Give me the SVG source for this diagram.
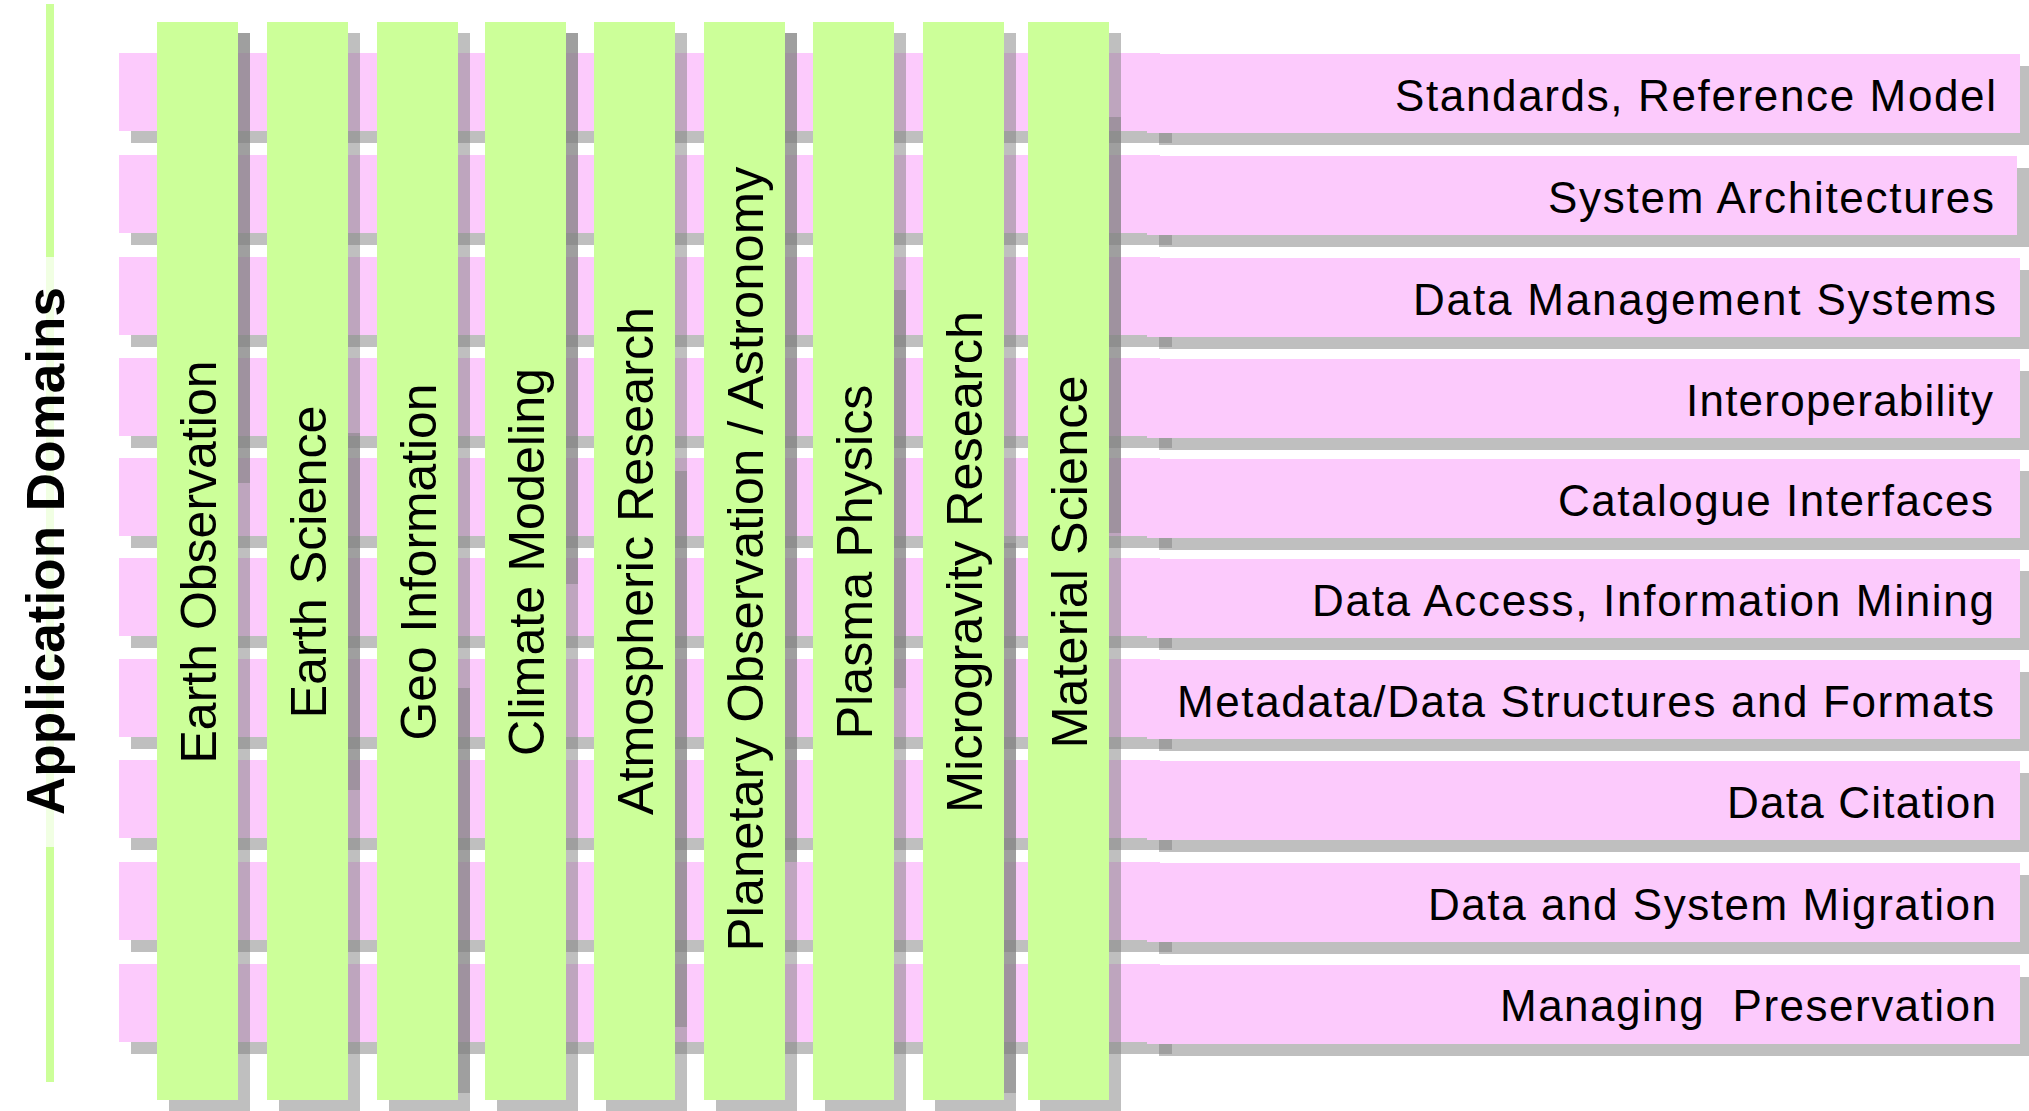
<svg xmlns="http://www.w3.org/2000/svg" width="2029" height="1111" viewBox="0 0 2029 1111">
<style>
.bar{fill:#fccafc}
.col{fill:#ccff99}
.sh{fill:#808080;fill-opacity:.5}
.bl{font-family:"Liberation Sans",Arial,sans-serif;font-size:44px;fill:#000;text-anchor:end}
.cl{font-family:"Liberation Sans",Arial,sans-serif;font-size:50px;fill:#000;text-anchor:middle}
.ax{font-family:"Liberation Sans",Arial,sans-serif;font-size:53px;font-weight:bold;fill:#000;text-anchor:middle}
</style>
<rect width="2029" height="1111" fill="#fff"/>
<g id="axis">
<rect x="46" y="4" width="8" height="1078" class="col"/>
<rect x="40" y="257" width="20" height="590" fill="#fff" fill-opacity=".72"/>
<text class="ax" transform="translate(64,551) rotate(-90)" textLength="528" lengthAdjust="spacing">Application Domains</text>
</g>
<g id="bar1"><rect class="sh" x="131" y="65" width="1041" height="78"/><rect class="sh" x="1159" y="66" width="873" height="79"/><rect class="bar" x="119" y="53" width="1041" height="78"/><rect class="bar" x="1147" y="54" width="873" height="79"/><text class="bl" x="1996" y="111" textLength="601" lengthAdjust="spacing">Standards, Reference Model</text></g>
<g id="bar2"><rect class="sh" x="131" y="167" width="1041" height="78"/><rect class="sh" x="1159" y="168" width="870" height="79"/><rect class="bar" x="119" y="155" width="1041" height="78"/><rect class="bar" x="1147" y="156" width="870" height="79"/><text class="bl" x="1994" y="213" textLength="446" lengthAdjust="spacing">System Architectures</text></g>
<g id="bar3"><rect class="sh" x="131" y="269" width="1041" height="78"/><rect class="sh" x="1159" y="270" width="873" height="79"/><rect class="bar" x="119" y="257" width="1041" height="78"/><rect class="bar" x="1147" y="258" width="873" height="79"/><text class="bl" x="1996" y="315" textLength="583" lengthAdjust="spacing">Data Management Systems</text></g>
<g id="bar4"><rect class="sh" x="131" y="370" width="1041" height="78"/><rect class="sh" x="1159" y="371" width="873" height="79"/><rect class="bar" x="119" y="358" width="1041" height="78"/><rect class="bar" x="1147" y="359" width="873" height="79"/><text class="bl" x="1993" y="416" textLength="307" lengthAdjust="spacing">Interoperability</text></g>
<g id="bar5"><rect class="sh" x="131" y="470" width="1041" height="78"/><rect class="sh" x="1159" y="471" width="873" height="79"/><rect class="bar" x="119" y="458" width="1041" height="78"/><rect class="bar" x="1147" y="459" width="873" height="79"/><text class="bl" x="1993" y="516" textLength="435" lengthAdjust="spacing">Catalogue Interfaces</text></g>
<g id="bar6"><rect class="sh" x="131" y="570" width="1041" height="78"/><rect class="sh" x="1159" y="571" width="873" height="79"/><rect class="bar" x="119" y="558" width="1041" height="78"/><rect class="bar" x="1147" y="559" width="873" height="79"/><text class="bl" x="1994" y="616" textLength="682" lengthAdjust="spacing">Data Access, Information Mining</text></g>
<g id="bar7"><rect class="sh" x="131" y="671" width="1041" height="78"/><rect class="sh" x="1159" y="672" width="873" height="79"/><rect class="bar" x="119" y="659" width="1041" height="78"/><rect class="bar" x="1147" y="660" width="873" height="79"/><text class="bl" x="1994" y="717" textLength="817" lengthAdjust="spacing">Metadata/Data Structures and Formats</text></g>
<g id="bar8"><rect class="sh" x="131" y="772" width="1041" height="78"/><rect class="sh" x="1159" y="773" width="873" height="79"/><rect class="bar" x="119" y="760" width="1041" height="78"/><rect class="bar" x="1147" y="761" width="873" height="79"/><text class="bl" x="1996" y="818" textLength="269" lengthAdjust="spacing">Data Citation</text></g>
<g id="bar9"><rect class="sh" x="131" y="874" width="1041" height="78"/><rect class="sh" x="1159" y="875" width="873" height="79"/><rect class="bar" x="119" y="862" width="1041" height="78"/><rect class="bar" x="1147" y="863" width="873" height="79"/><text class="bl" x="1996" y="920" textLength="568" lengthAdjust="spacing">Data and System Migration</text></g>
<g id="bar10"><rect class="sh" x="131" y="976" width="1041" height="78"/><rect class="sh" x="1159" y="977" width="873" height="79"/><rect class="bar" x="119" y="964" width="1041" height="78"/><rect class="bar" x="1147" y="965" width="873" height="79"/><text class="bl" x="1996" y="1021" textLength="496" lengthAdjust="spacing" xml:space="preserve">Managing  Preservation</text></g>
<g id="col1"><rect class="sh" x="169" y="33" width="81" height="1078"/><rect class="sh" x="238" y="33" width="12" height="450"/><rect class="col" x="157" y="22" width="81" height="1078"/><text class="cl" transform="translate(216,562) rotate(-90)" textLength="403" lengthAdjust="spacingAndGlyphs">Earth Observation</text></g>
<g id="col2"><rect class="sh" x="279" y="33" width="81" height="1078"/><rect class="sh" x="348" y="433" width="12" height="357"/><rect class="col" x="267" y="22" width="81" height="1078"/><text class="cl" transform="translate(326,562) rotate(-90)" textLength="313" lengthAdjust="spacingAndGlyphs">Earth Science</text></g>
<g id="col3"><rect class="sh" x="389" y="33" width="81" height="1078"/><rect class="sh" x="458" y="688" width="12" height="405"/><rect class="col" x="377" y="22" width="81" height="1078"/><text class="cl" transform="translate(436,562) rotate(-90)" textLength="357" lengthAdjust="spacingAndGlyphs">Geo Information</text></g>
<g id="col4"><rect class="sh" x="497" y="33" width="81" height="1078"/><rect class="sh" x="566" y="33" width="12" height="551"/><rect class="col" x="485" y="22" width="81" height="1078"/><text class="cl" transform="translate(544,562) rotate(-90)" textLength="388" lengthAdjust="spacingAndGlyphs">Climate Modeling</text></g>
<g id="col5"><rect class="sh" x="606" y="33" width="81" height="1078"/><rect class="sh" x="675" y="471" width="12" height="556"/><rect class="col" x="594" y="22" width="81" height="1078"/><text class="cl" transform="translate(653,561) rotate(-90)" textLength="508" lengthAdjust="spacingAndGlyphs">Atmospheric Research</text></g>
<g id="col6"><rect class="sh" x="716" y="33" width="81" height="1078"/><rect class="sh" x="785" y="33" width="12" height="829"/><rect class="col" x="704" y="22" width="81" height="1078"/><text class="cl" transform="translate(763,559) rotate(-90)" textLength="785" lengthAdjust="spacingAndGlyphs">Planetary Observation / Astronomy</text></g>
<g id="col7"><rect class="sh" x="825" y="33" width="81" height="1078"/><rect class="sh" x="894" y="290" width="12" height="398"/><rect class="col" x="813" y="22" width="81" height="1078"/><text class="cl" transform="translate(872,562) rotate(-90)" textLength="355" lengthAdjust="spacingAndGlyphs">Plasma Physics</text></g>
<g id="col8"><rect class="sh" x="935" y="33" width="81" height="1078"/><rect class="sh" x="1004" y="543" width="12" height="550"/><rect class="col" x="923" y="22" width="81" height="1078"/><text class="cl" transform="translate(982,562) rotate(-90)" textLength="502" lengthAdjust="spacingAndGlyphs">Microgravity Research</text></g>
<g id="col9"><rect class="sh" x="1040" y="33" width="81" height="1078"/><rect class="sh" x="1109" y="117" width="12" height="416"/><rect class="col" x="1028" y="22" width="81" height="1078"/><text class="cl" transform="translate(1087,562) rotate(-90)" textLength="373" lengthAdjust="spacingAndGlyphs">Material Science</text></g>
</svg>
